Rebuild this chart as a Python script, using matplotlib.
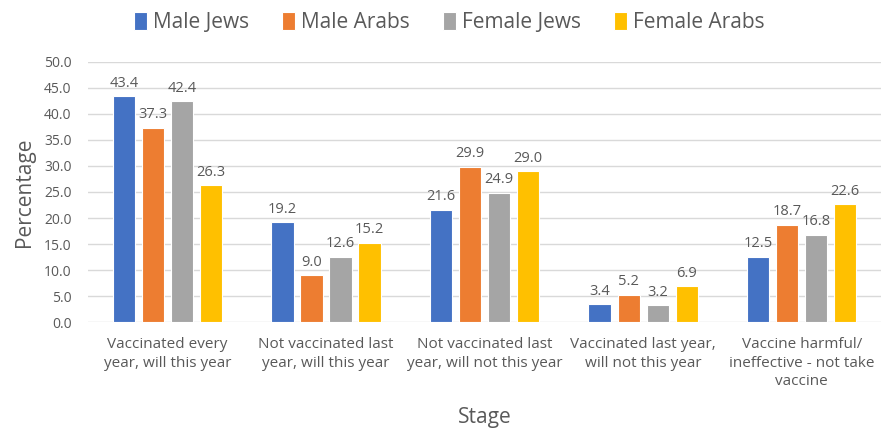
import numpy as np
import matplotlib.pyplot as plt

stages = ["Vaccinated every\nyear, will this year",
          "Not vaccinated last\nyear, will this year",
          "Not vaccinated last\nyear, will not this year",
          "Vaccinated last year,\nwill not this year",
          "Vaccine harmful/\nineffective - not take\nvaccine"]
series_names = ["Male Jews", "Male Arabs", "Female Jews", "Female Arabs"]
male_jews = [43.4, 19.2, 21.6, 3.4, 12.5]
male_arabs = [37.3, 9.0, 29.9, 5.2, 18.7]
female_jews = [42.4, 12.6, 24.9, 3.2, 16.8]
female_arabs = [26.3, 15.2, 29.0, 6.9, 22.6]
colors = ["#4472C4", "#ED7D31", "#A5A5A5", "#FFC000"]

plt.rcParams['font.family'] = ['Open Sans', 'DejaVu Sans']
txt = "#595959"

fig = plt.figure(figsize=(8.81, 4.30), dpi=100)
ax = fig.add_axes([0.1, 0.251, 0.9, 0.605])

x = np.arange(len(stages))
step = 0.183
width = 0.14
all_vals = [male_jews, male_arabs, female_jews, female_arabs]
for i, (vals, name, c) in enumerate(zip(all_vals, series_names, colors)):
    bars = ax.bar(x + (i - 1.5) * step, vals, width, color=c, label=name,
                  edgecolor='white', linewidth=0.8, zorder=3)
    ax.bar_label(bars, fmt='%.1f', padding=4, fontsize=10.5, color=txt)

ax.set_xlim(-0.5, len(stages) - 0.5)
ax.set_ylim(0, 50)
ax.set_yticks(np.arange(0, 50.1, 5))
ax.set_yticklabels([f"{v:.1f}" for v in np.arange(0, 50.1, 5)])
ax.set_xticks(x)
ax.set_xticklabels(stages, linespacing=1.3)
ax.tick_params(axis='both', length=0, colors=txt)
ax.tick_params(axis='x', pad=11, labelsize=11)
ax.tick_params(axis='y', pad=12, labelsize=10)
ax.grid(axis='y', color='#D9D9D9', linewidth=1, zorder=0)
for s in ax.spines.values():
    s.set_visible(False)

ax.set_ylabel("Percentage", fontsize=15, color=txt, labelpad=6)
ax.set_xlabel("Stage", fontsize=15, color=txt, labelpad=13)

fig.legend(loc='upper center', bbox_to_anchor=(0.51, 1.015), ncol=4, frameon=False,
           fontsize=15, labelcolor=txt, handlelength=0.6, handleheight=0.9,
           handletextpad=0.3, columnspacing=1.6)

fig.savefig("out.png", dpi=100)
